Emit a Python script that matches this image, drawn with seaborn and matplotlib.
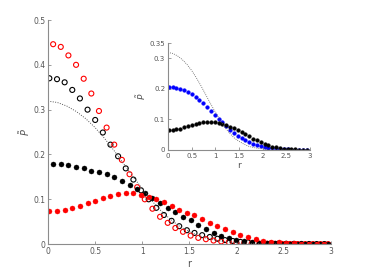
import matplotlib
matplotlib.use("Agg")
import matplotlib.pyplot as plt
import numpy as np
import pandas as pd
import seaborn as sns

# sample grids (two interleaved grids, step ~0.081)
r_a = np.round(0.015 + 0.081 * np.arange(37), 3)
r_b = np.round(0.055 + 0.081 * np.arange(37), 3)

# main panel, open circles
p_open_black = [0.370, 0.368, 0.361, 0.344, 0.325, 0.300, 0.277, 0.249, 0.222, 0.196,
                0.169, 0.144, 0.120, 0.100, 0.081, 0.065, 0.052, 0.040, 0.031, 0.025,
                0.020, 0.016, 0.012, 0.009, 0.007, 0.005, 0.0038, 0.0028, 0.002, 0.0015,
                0.001, 0.0008, 0.0006, 0.0004, 0.0003, 0.0002, 0.0002]
p_open_red = [0.446, 0.440, 0.421, 0.400, 0.369, 0.336, 0.297, 0.260, 0.222, 0.188,
              0.156, 0.127, 0.100, 0.079, 0.061, 0.0475, 0.036, 0.0275, 0.019, 0.014,
              0.011, 0.008, 0.006, 0.0045, 0.0033, 0.0024, 0.0017, 0.0012, 0.0009, 0.0006,
              0.0004, 0.0003, 0.0002, 0.0001, 0.0001, 0.0001, 0.0]

# main panel, filled circles
p_fill_black = [0.179, 0.178, 0.176, 0.173, 0.170, 0.164, 0.161, 0.156, 0.149, 0.140,
                0.133, 0.122, 0.113, 0.102, 0.0915, 0.081, 0.071, 0.061, 0.0535, 0.042,
                0.033, 0.025, 0.019, 0.013, 0.0095, 0.007, 0.005, 0.0035, 0.0025, 0.0017,
                0.0012, 0.0008, 0.0005, 0.0003, 0.0002, 0.0001, 0.0001]
p_fill_red = [0.074, 0.074, 0.076, 0.080, 0.086, 0.092, 0.097, 0.103, 0.107, 0.111,
              0.113, 0.113, 0.109, 0.106, 0.101, 0.094, 0.085, 0.076, 0.070, 0.064,
              0.056, 0.048, 0.040, 0.033, 0.026, 0.020, 0.015, 0.011, 0.008, 0.0055,
              0.004, 0.0028, 0.002, 0.0013, 0.0009, 0.0006, 0.0004]

# inset, filled circles
p_in_blue = [0.205, 0.205, 0.203, 0.200, 0.195, 0.189, 0.182, 0.173, 0.163, 0.152,
             0.140, 0.127, 0.115, 0.102, 0.090, 0.078, 0.066, 0.055, 0.046, 0.038,
             0.031, 0.025, 0.020, 0.0155, 0.012, 0.009, 0.0068, 0.005, 0.0037, 0.0027,
             0.002, 0.0014, 0.001, 0.0007, 0.0005, 0.0003, 0.0002]
p_in_black = [0.066, 0.066, 0.068, 0.070, 0.074, 0.078, 0.082, 0.086, 0.088, 0.090,
              0.091, 0.091, 0.090, 0.088, 0.085, 0.080, 0.076, 0.071, 0.065, 0.058,
              0.051, 0.044, 0.037, 0.031, 0.025, 0.020, 0.015, 0.011, 0.008, 0.006,
              0.004, 0.003, 0.002, 0.0014, 0.001, 0.0006, 0.0004]

# reference curve (dotted), both panels
r_ref = np.round(np.arange(0, 3.01, 0.1), 2)
p_ref = [0.319, 0.316, 0.308, 0.296, 0.280, 0.260, 0.236, 0.209, 0.180, 0.151,
         0.124, 0.097, 0.074, 0.055, 0.039, 0.028, 0.019, 0.012, 0.008, 0.005,
         0.0032, 0.002, 0.0012, 0.0007, 0.0004, 0.0002, 0.0001, 0.0, 0.0, 0.0, 0.0]

x_ticks = [0, 0.5, 1, 1.5, 2, 2.5, 3]
x_tick_labels = ["0", "0.5", "1", "1.5", "2", "2.5", "3"]
main_y_ticks = [0, 0.1, 0.2, 0.3, 0.4, 0.5]
main_y_labels = ["0", "0.1", "0.2", "0.3", "0.4", "0.5"]
inset_y_ticks = [0, 0.1, 0.2, 0.3, 0.35]
inset_y_labels = ["0", "0.1", "0.2", "0.3", "0.35"]

sns.set_style("ticks")
plt.rcParams["font.family"] = ["DejaVu Sans"]
axis_grey = "#8c8c8c"
label_grey = "#555555"

fig = plt.figure(figsize=(3.66, 2.74), dpi=100)
ax = fig.add_axes([0.131, 0.109, 0.773, 0.818])
ins = fig.add_axes([0.459, 0.453, 0.388, 0.390])


def style_axes(a, yticks, ylabels, fs):
    a.set_xlim(0, 3)
    a.set_xticks(x_ticks)
    a.set_xticklabels(x_tick_labels)
    a.set_yticks(yticks)
    a.set_yticklabels(ylabels)
    sns.despine(ax=a)
    for side in ["left", "bottom"]:
        a.spines[side].set_color(axis_grey)
        a.spines[side].set_linewidth(0.8)
    a.tick_params(direction="in", length=2.5, width=0.6, colors=axis_grey,
                  labelcolor=label_grey, labelsize=fs, pad=2)
    a.set_xlabel("r", fontsize=fs + 1.5, color=label_grey, labelpad=2)
    a.set_ylabel(r"$\tilde{P}$", fontsize=fs + 1.5, color=label_grey, labelpad=1)
    a.patch.set_alpha(0)


# main panel
sns.lineplot(x=r_ref, y=p_ref, ax=ax, color="#555555", lw=0.7, linestyle=(0, (1, 1.5)))
sns.scatterplot(x=r_a, y=p_open_black, ax=ax, marker="o", s=13, facecolor="none",
                edgecolor="black", linewidth=0.8)
sns.scatterplot(x=r_b, y=p_open_red, ax=ax, marker="o", s=13, facecolor="none",
                edgecolor="red", linewidth=0.8)
sns.scatterplot(x=r_b, y=p_fill_black, ax=ax, marker="o", s=13, color="black",
                edgecolor="black", linewidth=0.3)
sns.scatterplot(x=r_a, y=p_fill_red, ax=ax, marker="o", s=13, color="red",
                edgecolor="red", linewidth=0.3)
ax.set_ylim(0, 0.5)
style_axes(ax, main_y_ticks, main_y_labels, 5.5)

# inset
sns.lineplot(x=r_ref, y=p_ref, ax=ins, color="#555555", lw=0.6, linestyle=(0, (1, 1.5)))
sns.scatterplot(x=r_a, y=p_in_blue, ax=ins, marker="o", s=7, color="blue",
                edgecolor="blue", linewidth=0.3)
sns.scatterplot(x=r_a, y=p_in_black, ax=ins, marker="o", s=7, color="black",
                edgecolor="black", linewidth=0.3)
ins.set_ylim(0, 0.35)
style_axes(ins, inset_y_ticks, inset_y_labels, 5)

fig.savefig("out.png", dpi=100)
